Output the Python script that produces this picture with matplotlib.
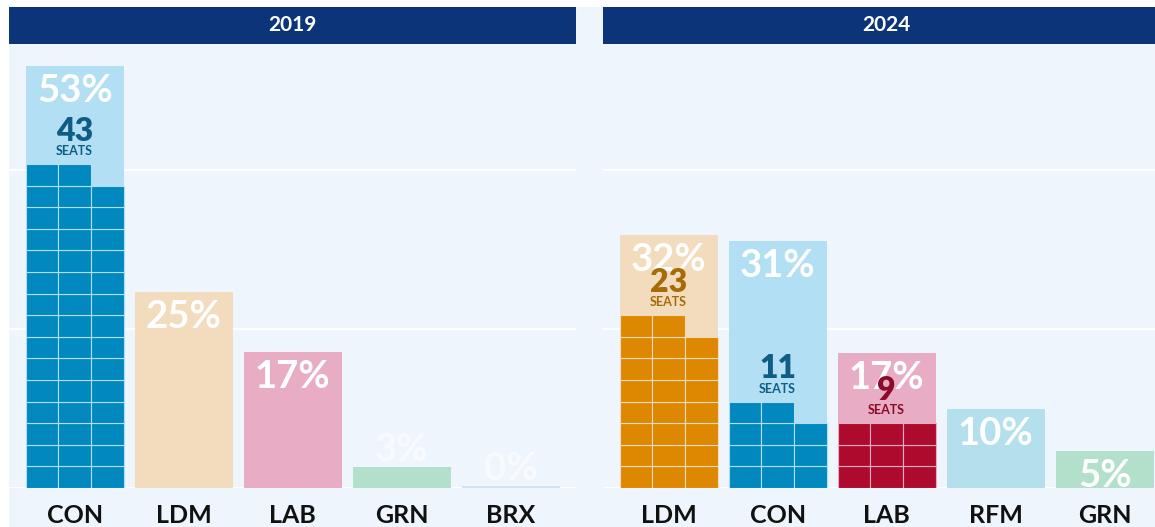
import matplotlib
matplotlib.use("Agg")
import matplotlib.pyplot as plt
from matplotlib.patches import Rectangle

# values
years = ["2019", "2024"]
parties_2019 = ["CON", "LDM", "LAB", "GRN", "BRX"]
share_2019 = [53.1, 24.6, 17.1, 2.6, 0.2]
seats_2019 = [43, 0, 0, 0, 0]
blocks_2019 = [44, 0, 0, 0, 0]   # squares as drawn in the picture
parties_2024 = ["LDM", "CON", "LAB", "RFM", "GRN"]
share_2024 = [31.8, 31.0, 17.0, 9.9, 4.65]
seats_2024 = [23, 11, 9, 0, 0]
blocks_2024 = [23, 11, 9, 0, 0]

light = {"CON": "#b3dff5", "LDM": "#f3dcbd", "LAB": "#e8adc4",
         "GRN": "#b3e0cb", "RFM": "#b4e0ee", "BRX": "#cfe4f0"}
dark = {"CON": "#0088bf", "LDM": "#dd8800", "LAB": "#ae0a2d"}
seat_txt = {"CON": "#0e5d85", "LDM": "#a66a06", "LAB": "#8a0a28"}

BG = "#eef5fd"
NAVY = "#0c3478"
FONT = "Lato"
W, H = 1155, 527
ROW = 2.716      # one row of 3 seats, in % units
YTOP = 55.83


def px(left, top, right, bottom):
    return [left / W, 1 - bottom / H, (right - left) / W, (bottom - top) / H]


fig = plt.figure(figsize=(W / 100, H / 100), dpi=100, facecolor="white")
fig.patches.append(Rectangle((9 / W, 0), 1, (H - 7) / H, transform=fig.transFigure,
                             facecolor=BG, edgecolor="none", zorder=-5))

ax1 = fig.add_axes(px(9, 44, 576, 488))
ax2 = fig.add_axes(px(603, 44, 1170, 488))

panels = [(ax1, years[0], parties_2019, share_2019, seats_2019, blocks_2019),
          (ax2, years[1], parties_2024, share_2024, seats_2024, blocks_2024)]

for ax, year, parties, share, seats, blocks in panels:
    ax.set_xlim(-0.603, 4.599)
    ax.set_ylim(0, YTOP)
    ax.axis("off")

    for g in [0, 20, 40]:
        ax.axhline(g, color="white", lw=1.3, zorder=0.5)

    # header band
    ax.add_patch(Rectangle((0, 1), 1, 37 / 444, transform=ax.transAxes,
                           facecolor=NAVY, edgecolor="none", clip_on=False, zorder=3))
    ax.text(0.5, 1 + 18.5 / 444, year, transform=ax.transAxes, ha="center", va="center",
            color="white", fontsize=15, fontweight="bold", family=FONT, zorder=4)

    for i, (p, v, s, b) in enumerate(zip(parties, share, seats, blocks)):
        ax.bar(i, v, width=0.9, color=light[p], zorder=1)

        # seat waffle, 3 per row, filled bottom-up, left to right
        for k in range(b):
            row, col = divmod(k, 3)
            ax.bar(i - 0.45 + col * 0.3, ROW, width=0.3, bottom=row * ROW, align="edge",
                   color=dark[p], edgecolor=light[p], lw=0.8, zorder=2)

        if v >= 4:
            ty, a = v - 3.14, 1.0
        else:
            ty, a = v + 2.14, 0.6
        ax.text(i, ty, f"{v:.0f}%", ha="center", va="center", color="white", alpha=a,
                fontsize=27.5, fontweight="bold", family=FONT, zorder=4, clip_on=False)

        if s > 0:
            top = -(-b // 3) * ROW
            ax.text(i, top + 4.15, str(s), ha="center", va="center", color=seat_txt[p],
                    fontsize=23, fontweight="heavy", family=FONT, zorder=5)
            ax.text(i, top + 1.63, "SEATS", ha="center", va="center", color=seat_txt[p],
                    fontsize=9, fontweight="bold", family=FONT, zorder=5)

        ax.text(i, -3.4, p, ha="center", va="center", color="#111111",
                fontsize=18, fontweight="bold", family=FONT, clip_on=False)

fig.savefig("out.png", dpi=100, facecolor="white")
